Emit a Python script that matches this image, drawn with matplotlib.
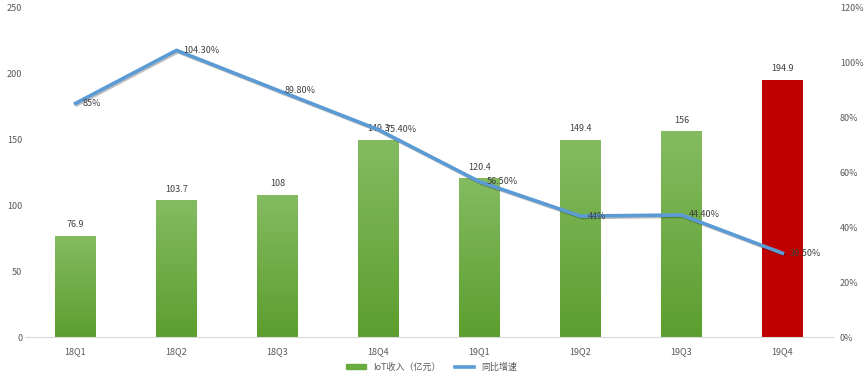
import numpy as np
import matplotlib.pyplot as plt
import matplotlib.patheffects as pe
from matplotlib.lines import Line2D
from matplotlib.patches import Patch
from matplotlib.colors import LinearSegmentedColormap

plt.rcParams['font.family'] = ['Noto Sans CJK SC', 'DejaVu Sans']

quarters = ['18Q1', '18Q2', '18Q3', '18Q4', '19Q1', '19Q2', '19Q3', '19Q4']
revenue = [76.9, 103.7, 108, 149.3, 120.4, 149.4, 156, 194.9]
growth = [85, 104.3, 89.8, 75.4, 56.5, 44, 44.4, 30.5]
growth_labels = ['85%', '104.30%', '89.80%', '75.40%', '56.50%', '44%', '44.40%', '30.50%']

fig = plt.figure(figsize=(8.64, 3.77), dpi=100)
ax = fig.add_axes([0.029, 0.106, 0.935, 0.875])
ax2 = ax.twinx()

x = np.arange(len(quarters))
width = 0.4
grad = np.linspace(0, 1, 256).reshape(-1, 1)
green_cmap = LinearSegmentedColormap.from_list('g', ['#5c9e2f', '#84bb60'])

bars = ax.bar(x, revenue, width=width, color='none', edgecolor='none', zorder=2)
for i, b in enumerate(bars):
    bx, by, bw, bh = b.get_x(), b.get_y(), b.get_width(), b.get_height()
    if i == len(bars) - 1:
        ax.bar(bx + bw / 2, bh, width=bw, color='#c00000', zorder=2)
    else:
        im = ax.imshow(grad, cmap=green_cmap, aspect='auto', origin='lower',
                       extent=[bx, bx + bw, by, by + bh], zorder=2)
        im.set_clip_path(b)
    ax.text(bx + bw / 2, bh + 5, f'{revenue[i]:g}', ha='center', va='bottom',
            fontsize=6.5, color='#404040')

ax.set_xlim(-0.5, len(quarters) - 0.5)
ax.set_ylim(0, 250)
ax.set_yticks(range(0, 251, 50))
ax.set_xticks(x)
ax.set_xticklabels(quarters)

ax2.plot(x, growth, color='#5b9bd5', lw=2.6, zorder=5, solid_joinstyle='round',
         path_effects=[pe.SimpleLineShadow(offset=(1, -1), alpha=0.25), pe.Normal()])
ax2.set_ylim(0, 120)
ax2.set_yticks(range(0, 121, 20))
ax2.set_yticklabels([f'{v}%' for v in range(0, 121, 20)])
for i, v in enumerate(growth):
    ax2.text(x[i] + 0.07, v, growth_labels[i], ha='left', va='center', fontsize=6.5,
             color='#404040', zorder=6)

for a in (ax, ax2):
    for s in a.spines.values():
        s.set_visible(False)
    a.tick_params(length=0, labelsize=6.5, labelcolor='#595959')
ax.spines['bottom'].set_visible(True)
ax.spines['bottom'].set_color('#d9d9d9')
ax.tick_params(axis='y', pad=2)
ax.tick_params(axis='x', pad=7)
ax2.tick_params(axis='y', pad=5)
ax.set_zorder(1)
ax2.set_zorder(2)
ax2.patch.set_visible(False)

handles = [Patch(color='#6aab3e'), Line2D([0], [0], color='#5b9bd5', lw=2.6)]
fig.legend(handles, ['IoT收入（亿元）', '同比增速'], loc='center', bbox_to_anchor=(0.5, 0.027),
           ncol=2, frameon=False, fontsize=6.5, handlelength=2.2, handleheight=0.5,
           columnspacing=1.5, labelcolor='#595959')

fig.savefig('out.png', dpi=100)
